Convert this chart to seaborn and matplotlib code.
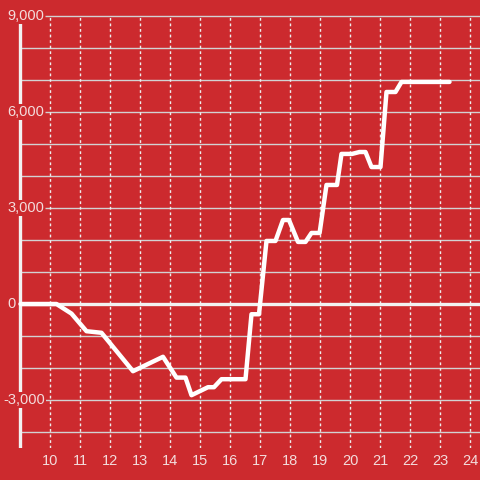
import matplotlib
matplotlib.use('Agg')
import matplotlib.pyplot as plt
import seaborn as sns

# hour of day vs running total
hours = [9.0, 10.2, 10.7, 11.2, 11.7, 12.75, 13.75, 14.2, 14.5, 14.7, 15.25, 15.45,
         15.7, 16.5, 16.7, 16.95, 17.2, 17.5, 17.75, 17.95, 18.25, 18.5, 18.7, 18.97,
         19.2, 19.55, 19.7, 20.05, 20.3, 20.5, 20.7, 21.0, 21.2, 21.5, 21.7, 23.3]
values = [0, 0, -300, -850, -900, -2100, -1650, -2300, -2300, -2850, -2600, -2600,
          -2350, -2350, -320, -320, 1970, 1970, 2625, 2625, 1940, 1940, 2220, 2220,
          3720, 3720, 4690, 4690, 4750, 4750, 4280, 4280, 6625, 6625, 6940, 6940]
x_ticks = list(range(10, 25))
y_labels = [9000, 6000, 3000, 0, -3000]
y_grid = list(range(-4000, 9001, 1000))

red = '#cc2a2e'
txt = '#f3dcdc'

sns.set_style('white', {'axes.facecolor': red, 'figure.facecolor': red})
plt.rcParams['font.family'] = ['Liberation Sans', 'DejaVu Sans']

fig = plt.figure(figsize=(4.8, 4.8), dpi=100)
ax = fig.add_axes([0, 32 / 480, 1, 448 / 480])
ax.set_xlim(8.317, 24.317)
ax.set_ylim(-4500, 9500)

# grid: labelled lines start right of their label
for g in y_grid:
    if g == 0:
        continue
    start = 9.82 if g in y_labels else 9
    ax.hlines(g, start, 24.317, color='#d2d2d2', lw=1, zorder=1)
ax.vlines(x_ticks, -4500, 9000, color='#eeeeee', lw=1, linestyles=(0, (2, 2)), zorder=1)
ax.hlines(0, 9, 24.317, color='#f2f2f2', lw=2.4, zorder=2)
ax.vlines(9, -4500, 9000, color='#f2f2f2', lw=2.4, zorder=2)

sns.lineplot(x=hours, y=values, ax=ax, color='white', lw=3.2, sort=False, zorder=3)

for v in y_labels:
    ax.text(8.42 if v < 0 else 8.55, v, f'{v:,}', ha='left', va='center', color=txt,
            fontsize=10.5, zorder=4,
            bbox=dict(facecolor=red, edgecolor='none', pad=0.8))

for s in ax.spines.values():
    s.set_visible(False)
ax.set_xticks(x_ticks)
ax.set_xticklabels([str(t) for t in x_ticks], color=txt, fontsize=10.5)
ax.set_yticks([])
ax.tick_params(axis='x', length=0, pad=4)
ax.set_xlabel('')
ax.set_ylabel('')

fig.savefig('out.png', dpi=100, facecolor=red)
